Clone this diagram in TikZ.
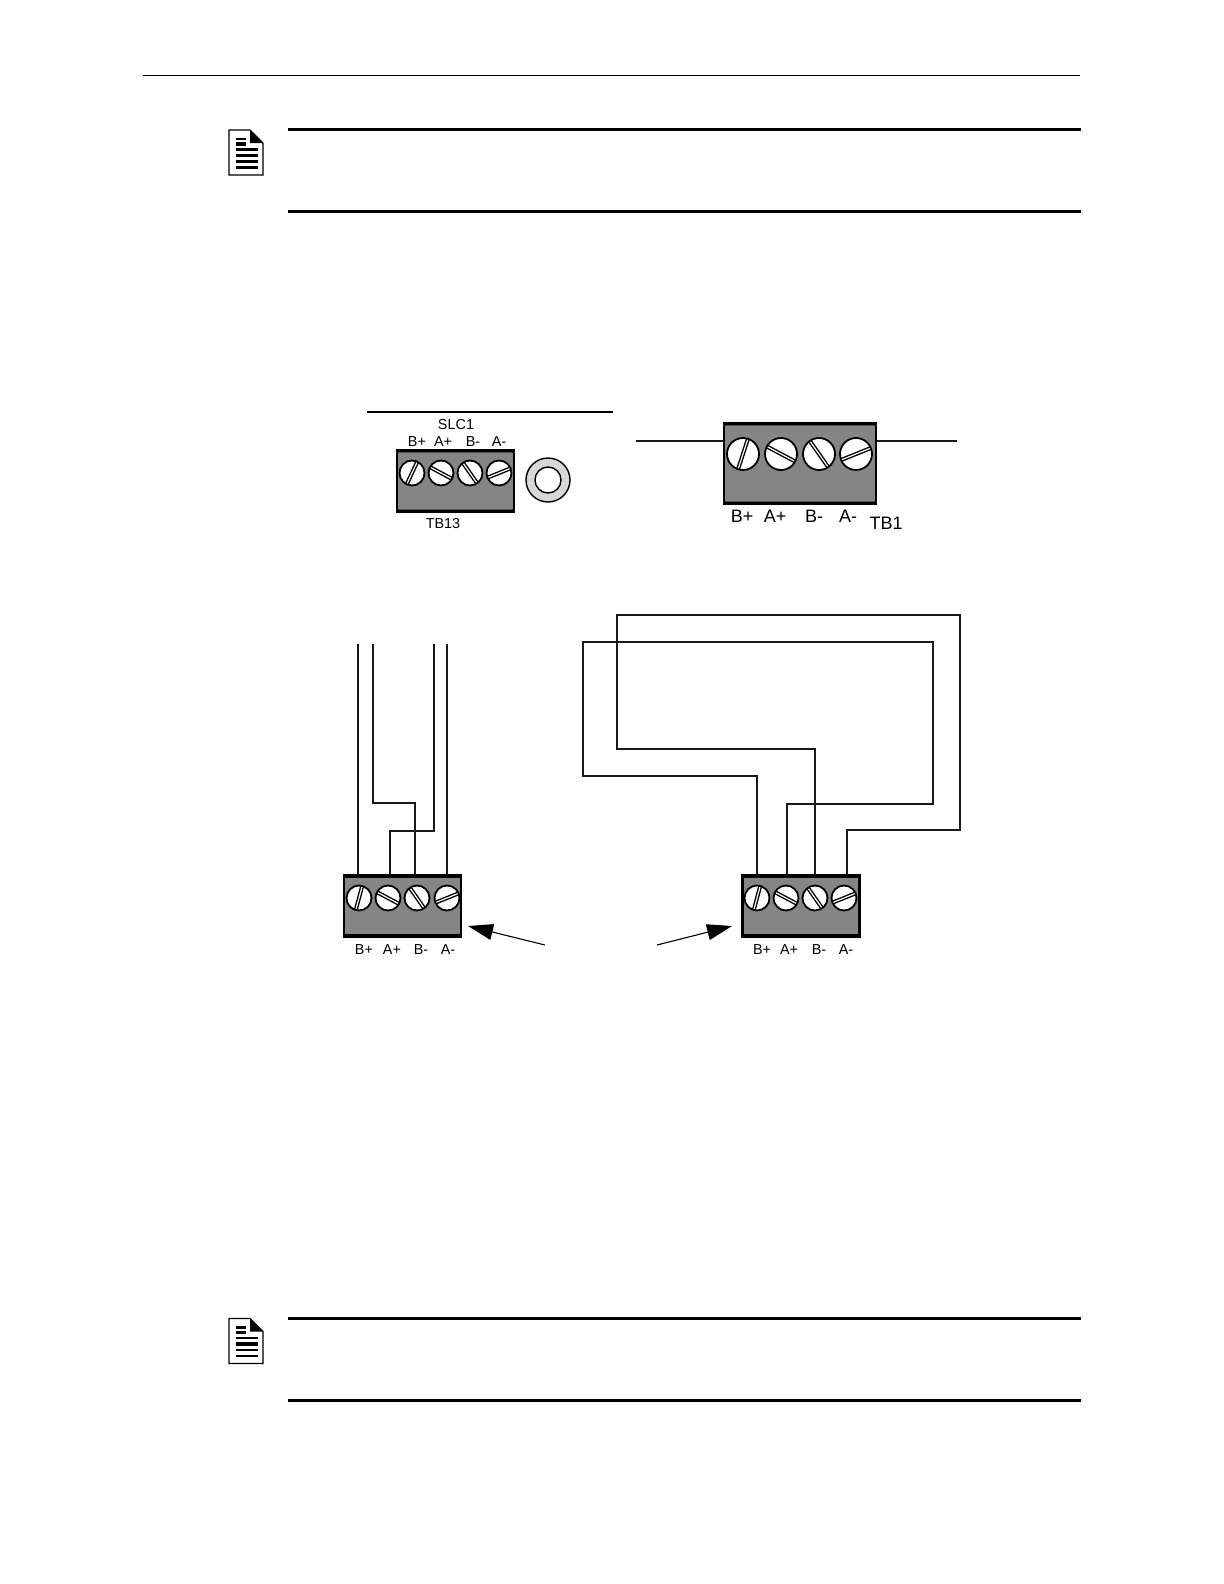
\documentclass[tikz,border=0pt]{standalone}
\usepackage{fontspec}
\setmainfont{Liberation Sans}
\usetikzlibrary{positioning,arrows.meta}
\definecolor{blockgray}{HTML}{858585}
\definecolor{washergray}{HTML}{D8D8D8}

\begin{document}
\begin{tikzpicture}[x=.5pt,y=-.5pt,on grid,
    wire/.style={draw,line width=.7pt,black!90},
    pointer/.style={line width=.55pt,-{Triangle[length=12.5pt,width=8pt]}},
    rulebar/.style={line width=1.5pt},
    smalltxt/.style={inner sep=0pt,font=\fontsize{7.2}{8}\selectfont,text height=.72em,text depth=0pt},
    bigtxt/.style={inner sep=0pt,font=\fontsize{9}{10}\selectfont,text height=.72em,text depth=0pt}]

      \tikzset{termblock/.style={rectangle,draw,fill=blockgray,line width=.8pt,inner sep=0pt,minimum width=58.5pt,minimum height=29.5pt}}
      \tikzset{bigblock/.style={termblock,minimum width=76pt,minimum height=39pt}}
      \tikzset{screw/.style={circle,draw,fill=white,line width=.9pt,inner sep=0pt,minimum size=12.5pt,
          path picture={
            \draw[line width=2pt,black] ([shift={(#1:12pt)}]path picture bounding box.center) -- ([shift={(#1:-12pt)}]path picture bounding box.center);
            \draw[line width=.6pt,white] ([shift={(#1:12pt)}]path picture bounding box.center) -- ([shift={(#1:-12pt)}]path picture bounding box.center);
          }}}
      \tikzset{bigscrew/.style={screw=#1,minimum size=16pt}}
      \tikzset{noteicon/.pic={
          \draw[line width=.6pt,fill=white] (229,130) -- (250,130) -- (263,143) -- (263,175) -- (229,175) -- cycle;
          \fill[black] (250,130) -- (263,143) -- (250,143) -- cycle;
          \draw[line width=1.1pt] (236,139) -- (246,139);
          \draw[line width=1.6pt] (236,144) -- (246,144);
          \draw[line width=1.1pt] (236,149.5) -- (258,149.5);
          \draw[line width=1.6pt] (236,155.5) -- (258,155.5);
          \draw[line width=1.1pt] (236,161.5) -- (258,161.5);
          \draw[line width=1.1pt] (236,167.5) -- (258,167.5);
          \draw[rulebar] (288,130) -- (1081,130);
          \draw[rulebar] (288,211.5) -- (1081,211.5);
      }}

      \useasboundingbox (0,0) rectangle (1224,1584);
      \draw[line width=.5pt] (143,75.5) -- (1080,75.5);
      \pic at (0,0) {noteicon};
      \pic at (0,1188.5) {noteicon};

      % upper left
      \draw[line width=.9pt] (367,412) -- (613,412);
      \node (slc) at (456,422) [smalltxt] {SLC1};
      \node (tb13p) at (417,439.5) [smalltxt] {B+};
      \node (tb13q) [smalltxt,right = 13pt of tb13p] {A+};
      \node (tb13r) [smalltxt,right = 15pt of tb13q] {B-};
      \node (tb13s) [smalltxt,right = 13pt of tb13r] {A-};
      \node[termblock,rounded corners=.8pt] (tb13) at (455.5,481) {};
      \node[screw=65] (tb13a) at (412,473) {};
      \node[screw=-28] (tb13b) [right = 14.5pt of tb13a] {};
      \node[screw=-55] (tb13c) [right = 14.5pt of tb13b] {};
      \node[screw=22] (tb13d) [right = 14.5pt of tb13c] {};
      \node (tb13name) at (443,521.5) [smalltxt] {TB13};
      \node[circle,draw,fill=washergray,line width=.7pt,minimum size=22pt,inner sep=0pt] (washer) at (548,480) {};
      \node[circle,draw,fill=white,line width=.7pt,minimum size=13pt,inner sep=0pt] (washerhole) at (washer) {};

      % upper right
      \coordinate (tb1w) at (636,441);
      \coordinate (tb1e) at (957,441);
      \node[bigblock,rounded corners=.8pt] (tb1) at (800,463.5) {};
      \path[wire] (tb1w) -- (tb1w -| tb1.west);
      \path[wire] (tb1.east |- tb1e) -- (tb1e);
      \node[bigscrew=72] (tb1a) at (743,454) {};
      \node[bigscrew=-28] (tb1b) [right = 19pt of tb1a] {};
      \node[bigscrew=-55] (tb1c) [right = 19pt of tb1b] {};
      \node[bigscrew=22] (tb1d) [right = 18.5pt of tb1c] {};
      \node (tb1p) at (742,515) [bigtxt] {B+};
      \node (tb1q) [bigtxt,right = 16.5pt of tb1p] {A+};
      \node (tb1r) [bigtxt,right = 19.5pt of tb1q] {B-};
      \node (tb1s) [bigtxt,right = 17pt of tb1r] {A-};
      \node (tb1name) at (886,522) [bigtxt] {TB1};

      % lower left wiring
      \coordinate (ltop1) at (358,644);
      \coordinate (ltop2) at (373,644);
      \coordinate (ltop3) at (434,644);
      \coordinate (ltop4) at (447,644);
      \coordinate (lpin1) at (358,876);
      \coordinate (lpin2) at (390,876);
      \coordinate (lpin3) at (415,876);
      \coordinate (lpin4) at (447,876);
      \coordinate (lbend2) at (415,803);
      \coordinate (lbend3) at (434,831);
      \path[wire] (ltop1) -- (lpin1);
      \path[wire] (ltop2) |- (lbend2) -- (lpin3);
      \path[wire] (ltop3) -- (lbend3) -| (lpin2);
      \path[wire] (ltop4) -- (lpin4);
      \node[termblock,line width=1.1pt] (lb) at (402.5,906) {};
      \node[screw=75] (lba) at (359,898) {};
      \node[screw=-28] (lbb) [right = 14.5pt of lba] {};
      \node[screw=-55] (lbc) [right = 14.5pt of lbb] {};
      \node[screw=22] (lbd) [right = 15pt of lbc] {};
      \node (lbp) at (364,947) [smalltxt] {B+};
      \node (lbq) [smalltxt,right = 14pt of lbp] {A+};
      \node (lbr) [smalltxt,right = 14.5pt of lbq] {B-};
      \node (lbs) [smalltxt,right = 13.5pt of lbr] {A-};

      % lower right wiring
      \coordinate (rpin1) at (757,876);
      \coordinate (rpin2) at (787,876);
      \coordinate (rpin3) at (815,876);
      \coordinate (rpin4) at (847,876);
      \coordinate (rloop1) at (583,776);
      \coordinate (rloop2) at (933,642);
      \coordinate (rloop3) at (933,804);
      \coordinate (rloop4) at (617,749);
      \coordinate (rloop5) at (960,615);
      \coordinate (rloop6) at (960,830);
      \path[wire] (rpin1) |- (rloop1) |- (rloop2) -- (rloop3) -| (rpin2);
      \path[wire] (rpin3) |- (rloop4) |- (rloop5) -- (rloop6) -| (rpin4);
      \node[termblock,line width=1.1pt] (rb) at (801,906) {};
      \node[screw=75] (rba) at (757,898) {};
      \node[screw=-28] (rbb) [right = 14.5pt of rba] {};
      \node[screw=-55] (rbc) [right = 14.5pt of rbb] {};
      \node[screw=22] (rbd) [right = 14.5pt of rbc] {};
      \node (rbp) at (762,947) [smalltxt] {B+};
      \node (rbq) [smalltxt,right = 13.5pt of rbp] {A+};
      \node (rbr) [smalltxt,right = 15pt of rbq] {B-};
      \node (rbs) [smalltxt,right = 13.5pt of rbr] {A-};

      \foreach \blk in {tb13,tb1,lb,rb} {
        \draw[rulebar] (\blk.north west) -- (\blk.north east);
        \draw[rulebar] (\blk.south west) -- (\blk.south east);
      }

      \coordinate (ltail) at (545,945);
      \coordinate (ltip) at (468,926);
      \coordinate (rtail) at (657,945);
      \coordinate (rtip) at (732,926);
      \draw[pointer] (ltail) -- (ltip);
      \draw[pointer] (rtail) -- (rtip);
\end{tikzpicture}
\end{document}
